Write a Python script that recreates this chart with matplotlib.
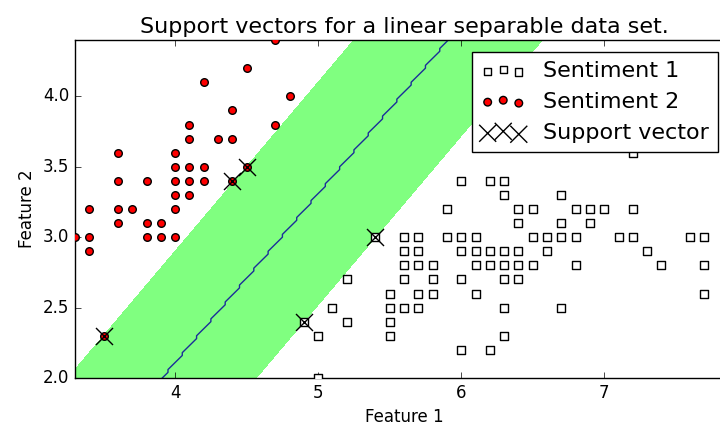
import numpy as np
import matplotlib
matplotlib.use("Agg")
import matplotlib.pyplot as plt

plt.style.use("classic")

# ---- data ----
sent2_x = [3.3, 3.4, 3.4, 3.4, 3.5, 3.6, 3.6, 3.6, 3.6, 3.7, 3.8, 3.8, 3.8, 3.9, 3.9,
           4.0, 4.0, 4.0, 4.0, 4.0, 4.0, 4.1, 4.1, 4.1, 4.1, 4.1, 4.2, 4.2, 4.2, 4.3,
           4.4, 4.4, 4.4, 4.5, 4.5, 4.7, 4.7, 4.8]
sent2_y = [3.0, 2.9, 3.0, 3.2, 2.3, 3.1, 3.2, 3.4, 3.6, 3.2, 3.0, 3.1, 3.4, 3.0, 3.1,
           3.0, 3.2, 3.3, 3.4, 3.5, 3.6, 3.3, 3.4, 3.5, 3.7, 3.8, 3.4, 3.5, 4.1, 3.7,
           3.4, 3.7, 3.9, 3.5, 4.2, 3.8, 4.4, 4.0]

sent1_x = [4.9, 5.0, 5.0, 5.1, 5.2, 5.2, 5.4,
           5.5, 5.5, 5.5, 5.5,
           5.6, 5.6, 5.6, 5.6, 5.6,
           5.7, 5.7, 5.7, 5.7, 5.7,
           5.8, 5.8, 5.8,
           5.9, 5.9,
           6.0, 6.0, 6.0, 6.0, 6.0,
           6.1, 6.1, 6.1, 6.1,
           6.2, 6.2, 6.2, 6.2,
           6.3, 6.3, 6.3, 6.3, 6.3, 6.3, 6.3,
           6.4, 6.4, 6.4, 6.4, 6.4,
           6.5, 6.5, 6.5,
           6.6, 6.6,
           6.7, 6.7, 6.7, 6.7,
           6.8, 6.8, 6.8,
           6.9, 6.9,
           7.0, 7.1,
           7.2, 7.2, 7.2,
           7.3, 7.4, 7.6,
           7.7, 7.7, 7.7, 7.7,
           7.9]
sent1_y = [2.4, 2.0, 2.3, 2.5, 2.4, 2.7, 3.0,
           2.3, 2.4, 2.5, 2.6,
           2.5, 2.7, 2.8, 2.9, 3.0,
           2.5, 2.6, 2.8, 2.9, 3.0,
           2.6, 2.7, 2.8,
           3.0, 3.2,
           2.2, 2.7, 2.9, 3.0, 3.4,
           2.6, 2.8, 2.9, 3.0,
           2.2, 2.8, 2.9, 3.4,
           2.3, 2.5, 2.7, 2.8, 2.9, 3.3, 3.4,
           2.7, 2.8, 2.9, 3.1, 3.2,
           2.8, 3.0, 3.2,
           2.9, 3.0,
           2.5, 3.0, 3.1, 3.3,
           2.8, 3.0, 3.2,
           3.1, 3.2,
           3.2, 3.0,
           3.0, 3.2, 3.6,
           2.9, 2.8, 3.0,
           2.6, 2.8, 3.0, 3.8,
           3.8]

sv_x = [3.5, 4.4, 4.5, 4.9, 5.4]
sv_y = [2.3, 3.4, 3.5, 2.4, 3.0]

# linear decision function f = w0*x + w1*y + b (margins at f = -1, +1)
w = [1.519, -1.266]
b = -3.405

x_lim = (3.3, 7.9)
y_lim = (2.0, 4.4)
x_ticks = [4, 5, 6, 7]
y_ticks = [2.0, 2.5, 3.0, 3.5, 4.0]

title = "Support vectors for a linear separable data set."
x_label = "Feature 1"
y_label = "Feature 2"
labels = ["Sentiment 1", "Sentiment 2", "Support vector"]

# ---- figure ----
fig = plt.figure(figsize=(7.2, 4.3), dpi=100, facecolor="white")
ax = fig.add_axes([75 / 720, 52 / 430, 658 / 720, 338 / 430])
ax.set_facecolor("white")

h = 0.02
xx, yy = np.meshgrid(np.arange(x_lim[0] - 0.1, x_lim[1] + 0.1, h),
                     np.arange(y_lim[0] - 0.1, y_lim[1] + 0.1, h))
dec = w[0] * xx + w[1] * yy + b
ax.contourf(xx, yy, dec, levels=[-1, 1], colors=["#80ff80"])
pred = (dec > 0).astype(float)
ax.contour(xx, yy, pred, levels=[0.5], colors=[(0.1, 0.18, 0.6)], linewidths=1)

s1 = ax.scatter(sent1_x, sent1_y, s=26, marker="s", facecolors="white",
                edgecolors="black", linewidths=1, zorder=3)
s2 = ax.scatter(sent2_x, sent2_y, s=30, marker="o", facecolors="red",
                edgecolors="black", linewidths=1, zorder=3)
s3 = ax.scatter(sv_x, sv_y, s=150, marker="x", color="black",
                linewidths=1, zorder=4)

ax.set_xlim(*x_lim)
ax.set_ylim(*y_lim)
ax.set_xticks(x_ticks)
ax.set_yticks(y_ticks)
ax.set_yticklabels(["%.1f" % v for v in y_ticks])
ax.set_title(title, fontsize=16)
ax.set_xlabel(x_label)
ax.set_ylabel(y_label)

ax.legend([s1, s2, s3], labels, loc="upper right", fontsize=16,
          bbox_to_anchor=(718 / 720, (430 - 52) / 430),
          bbox_transform=fig.transFigure, borderaxespad=0)

fig.savefig("out.png", dpi=100, facecolor="white")
